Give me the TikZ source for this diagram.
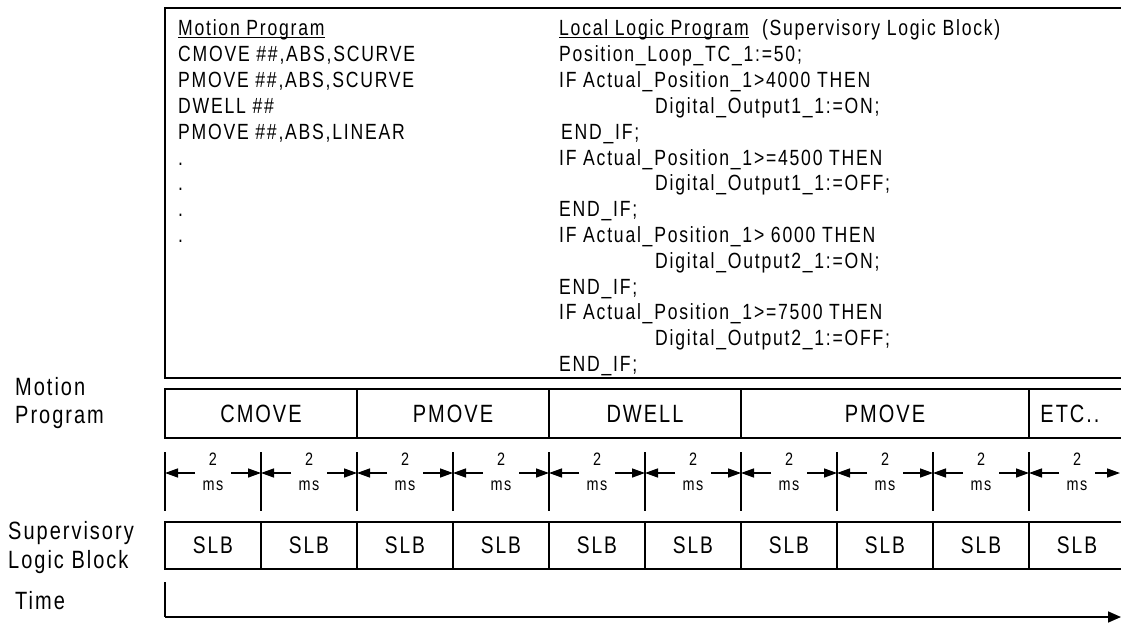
\documentclass[tikz,border=0pt]{standalone}
\usepackage{fontspec}
\setmainfont{Liberation Sans}[FakeStretch=0.8,LetterSpace=8]
\usetikzlibrary{arrows.meta}
\newcommand{\ulbase}[1]{\underline{\smash{#1}}}
\begin{document}
\begin{tikzpicture}[x=1pt,y=-1pt,
  codetext/.style={anchor=base west,inner sep=0pt,font=\fontsize{22}{22}\selectfont},
  celltext/.style={anchor=base,inner sep=0pt,font=\fontsize{25}{25}\selectfont},
  slbtext/.style={anchor=base,inner sep=0pt,font=\fontsize{24}{24}\selectfont},
  sidelabel/.style={anchor=base west,inner sep=0pt,font=\fontsize{25}{25}\selectfont},
  dimlabel/.style={anchor=base,inner sep=0pt,font=\fontsize{18}{18}\selectfont},
  frame/.style={line width=2pt},
  rowline/.style={line width=1.4pt},
  tickline/.style={line width=1.8pt},
  dimarrow/.style={line width=1.4pt,-{Triangle[length=13pt,width=9pt]}},
  timearrow/.style={line width=1.6pt,-{Triangle[length=13pt,width=11pt]}}]
\useasboundingbox (0,0) rectangle (1121,626);

% top program box
\coordinate (tbTL) at (165,8);
\coordinate (tbTR) at (1126,8);
\coordinate (tbBL) at (165,378);
\coordinate (tbBR) at (1126,378);
\draw[frame] (tbTR) -- (tbTL) -- (tbBL) -- (tbBR);

% left column
\foreach \t [count=\i] in {{\ulbase{Motion Program}},
  {CMOVE \#\#,ABS,SCURVE},{PMOVE \#\#,ABS,SCURVE},{DWELL \#\#},
  {PMOVE \#\#,ABS,LINEAR},{.},{.},{.},{.}}
  \node[codetext] (l\i) at (178,{36+25.8*(\i-1)}) {\t};

% right column
\foreach \t/\xx [count=\i] in {
  {\ulbase{Local Logic Program}\ \ (Supervisory Logic Block)}/559,
  {Position\_Loop\_TC\_1:=50;}/559,
  {IF Actual\_Position\_1>4000 THEN}/559,
  {Digital\_Output1\_1:=ON;}/655,
  {END\_IF;}/561,
  {IF Actual\_Position\_1>=4500 THEN}/559,
  {Digital\_Output1\_1:=OFF;}/655,
  {END\_IF;}/559,
  {IF Actual\_Position\_1> 6000 THEN}/559,
  {Digital\_Output2\_1:=ON;}/655,
  {END\_IF;}/559,
  {IF Actual\_Position\_1>=7500 THEN}/559,
  {Digital\_Output2\_1:=OFF;}/655,
  {END\_IF;}/559}
  \node[codetext] (r\i) at (\xx,{36+25.8*(\i-1)}) {\t};

% side labels
\node[sidelabel] (labMotion) at (15,395) {Motion};
\node[sidelabel] (labProgram) at (15,423) {Program};
\node[sidelabel] (labSup) at (8,539) {Supervisory};
\node[sidelabel] (labLogic) at (8,568) {Logic Block};
\node[sidelabel] (labTime) at (15,609) {Time};

% motion program row
\draw[rowline] (1126,389) -- (165,389) -- (165,438) -- (1126,438);
\foreach \xx in {357,549,741,1029}
  \draw[rowline] (\xx,389) -- (\xx,438);
\foreach \t/\xx [count=\i] in {CMOVE/261,PMOVE/453,DWELL/645,PMOVE/885,ETC../1070}
  \node[celltext] (m\i) at (\xx,422) {\t};

% 2 ms dimension row
\foreach \k in {0,...,9}{
  \pgfmathsetmacro{\xa}{165+96*\k}
  \pgfmathsetmacro{\xb}{min(165+96*(\k+1),1120)}
  \coordinate (t\k) at (\xa,473);
  \coordinate (u\k) at (\xb,473);
  \coordinate (a\k) at (\xa+30,473);
  \coordinate (b\k) at (\xa+66,473);
  \draw[tickline] (\xa,452) -- (\xa,511);
  \node[dimlabel] (two\k) at (\xa+48,465) {2};
  \node[dimlabel] (ms\k) at (\xa+48,490) {ms};
  \draw[dimarrow] (a\k) -- (t\k);
  \draw[dimarrow] (b\k) -- (u\k);
}

% SLB row
\draw[rowline] (1126,522) -- (165,522) -- (165,569) -- (1126,569);
\foreach \k in {1,...,9}
  \draw[rowline] (165+96*\k,522) -- (165+96*\k,569);
\foreach \k in {0,...,9}
  \node[slbtext] (s\k) at (213+96*\k,553) {SLB};

% time axis
\coordinate (timeTop) at (165,582);
\coordinate (timeOrigin) at (165,617);
\coordinate (timeEnd) at (1121,617);
\draw[line width=1.6pt] (timeTop) -- (timeOrigin);
\draw[timearrow] (timeOrigin) -- (timeEnd);
\end{tikzpicture}
\end{document}
